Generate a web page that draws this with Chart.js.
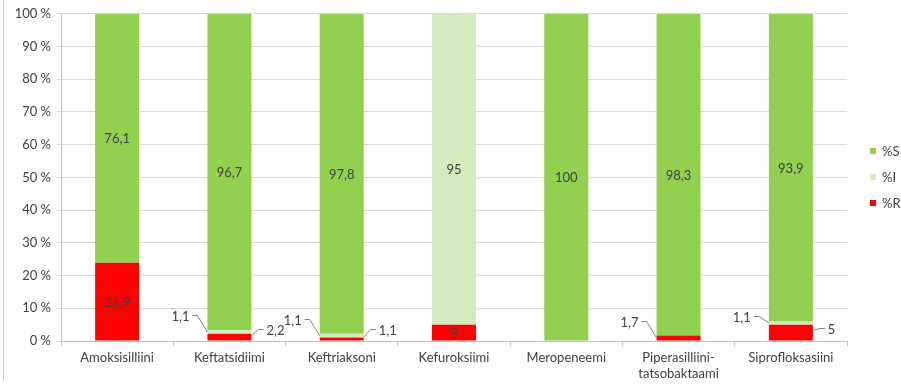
<!DOCTYPE html>
<html>
<head>
<meta charset="utf-8">
<script src="https://cdn.jsdelivr.net/npm/chart.js@4"></script>
<style>
  html, body { margin: 0; padding: 0; background: #fff; }
  #wrap { position: relative; width: 901px; height: 385px; }
  #frame { position: absolute; left: 3px; top: 0; width: 1px; height: 381px; background: #c8c8c8; }
</style>
</head>
<body>
<div id="wrap">
  <canvas id="chart" width="901" height="385"></canvas>
  <div id="frame"></div>
</div>
<script>
const categories = [
  "Amoksisilliini",
  "Keftatsidiimi",
  "Keftriaksoni",
  "Kefuroksiimi",
  "Meropeneemi",
  ["Piperasilliini-", "tatsobaktaami"],
  "Siprofloksasiini",
];
const pctR = [23.9, 2.2, 1.1, 5, 0, 1.7, 5];
const pctI = [0, 1.1, 1.1, 95, 0, 0, 1.1];
const pctS = [76.1, 96.7, 97.8, 0, 100, 98.3, 93.9];
const yTicks = [0, 10, 20, 30, 40, 50, 60, 70, 80, 90, 100];

const COLOR_R = "#ff0000";
const COLOR_I = "#d4ebbd";
const COLOR_S = "#92d050";
const TEXT = "#404040";
const FONT = "Lato, 'Liberation Sans', sans-serif";

// small values get a leader line instead of an inside label
const callouts = {
  "I-1": { side: "left", dy: -17 },
  "R-1": { side: "right", dy: -8 },
  "I-2": { side: "left", dy: -17 },
  "R-2": { side: "right", dy: -10 },
  "R-5": { side: "left", dy: -17 },
  "I-6": { side: "left", dy: -7 },
  "R-6": { side: "right", dy: -5 },
};

const fmt = (v) => String(v).replace(".", ",");

const valueLabels = {
  id: "valueLabels",
  afterDatasetsDraw(chart) {
    const ctx = chart.ctx;
    ctx.save();
    ctx.font = "13px " + FONT;
    ctx.fillStyle = TEXT;
    ctx.strokeStyle = "#808080";
    ctx.lineWidth = 1;
    chart.data.datasets.forEach((ds, di) => {
      const meta = chart.getDatasetMeta(di);
      meta.data.forEach((bar, i) => {
        const v = ds.data[i];
        if (!v) return;
        const mid = (bar.y + bar.base) / 2;
        const left = bar.x - bar.width / 2;
        const right = bar.x + bar.width / 2;
        const c = callouts[ds.key + "-" + i];
        ctx.textBaseline = "middle";
        if (!c) {
          ctx.textAlign = "center";
          ctx.fillText(fmt(v), bar.x, mid + 1);
          return;
        }
        const ty = Math.round(mid + c.dy) + 0.5;
        ctx.beginPath();
        if (c.side === "left") {
          ctx.moveTo(left, mid);
          ctx.lineTo(left - 10, ty);
          ctx.lineTo(left - 15, ty);
          ctx.stroke();
          ctx.textAlign = "right";
          ctx.fillText(fmt(v), left - 18, ty + 1);
        } else {
          ctx.moveTo(right, mid - 2);
          ctx.lineTo(right + 7, ty);
          ctx.lineTo(right + 12, ty);
          ctx.stroke();
          ctx.textAlign = "left";
          ctx.fillText(fmt(v), right + 15, ty + 1);
        }
      });
    });
    ctx.restore();
  },
};

const sideLegend = {
  id: "sideLegend",
  afterDraw(chart) {
    const ctx = chart.ctx;
    const items = chart.data.datasets.slice().reverse();
    ctx.save();
    ctx.font = "13px " + FONT;
    ctx.textBaseline = "middle";
    ctx.textAlign = "left";
    items.forEach((ds, k) => {
      const y = 151 + k * 26;
      ctx.fillStyle = ds.backgroundColor;
      ctx.fillRect(870, y - 3, 6, 6);
      ctx.fillStyle = TEXT;
      ctx.fillText(ds.label, 882, y + 1);
    });
    ctx.restore();
  },
};

new Chart(document.getElementById("chart"), {
  type: "bar",
  data: {
    labels: categories,
    datasets: [
      { key: "R", label: "%R", data: pctR, backgroundColor: COLOR_R },
      { key: "I", label: "%I", data: pctI, backgroundColor: COLOR_I },
      { key: "S", label: "%S", data: pctS, backgroundColor: COLOR_S },
    ],
  },
  options: {
    responsive: false,
    animation: false,
    datasets: { bar: { barPercentage: 1, categoryPercentage: 0.392, borderWidth: 0 } },
    layout: { padding: { left: 0, right: 54, top: 11, bottom: 0 } },
    plugins: {
      legend: { display: false },
      tooltip: { enabled: false },
    },
    scales: {
      x: {
        stacked: true,
        afterFit: (s) => { s.height = 44; },
        grid: {
          offset: true,
          drawOnChartArea: false,
          color: "#bfbfbf",
          tickLength: 5,
        },
        border: { color: "#bfbfbf" },
        ticks: {
          color: TEXT,
          font: { family: FONT, size: 13 },
          padding: 4,
          maxRotation: 0,
          autoSkip: false,
        },
      },
      y: {
        stacked: true,
        min: 0,
        max: 100,
        afterFit: (s) => { s.width = 61; },
        afterBuildTicks: (s) => { s.ticks = yTicks.map((v) => ({ value: v })); },
        grid: { color: "#d9d9d9", tickLength: 4 },
        border: { color: "#bfbfbf" },
        ticks: {
          color: TEXT,
          font: { family: FONT, size: 13 },
          padding: 6,
          callback: (v) => v + " %",
        },
      },
    },
  },
  plugins: [valueLabels, sideLegend],
});
</script>
</body>
</html>
